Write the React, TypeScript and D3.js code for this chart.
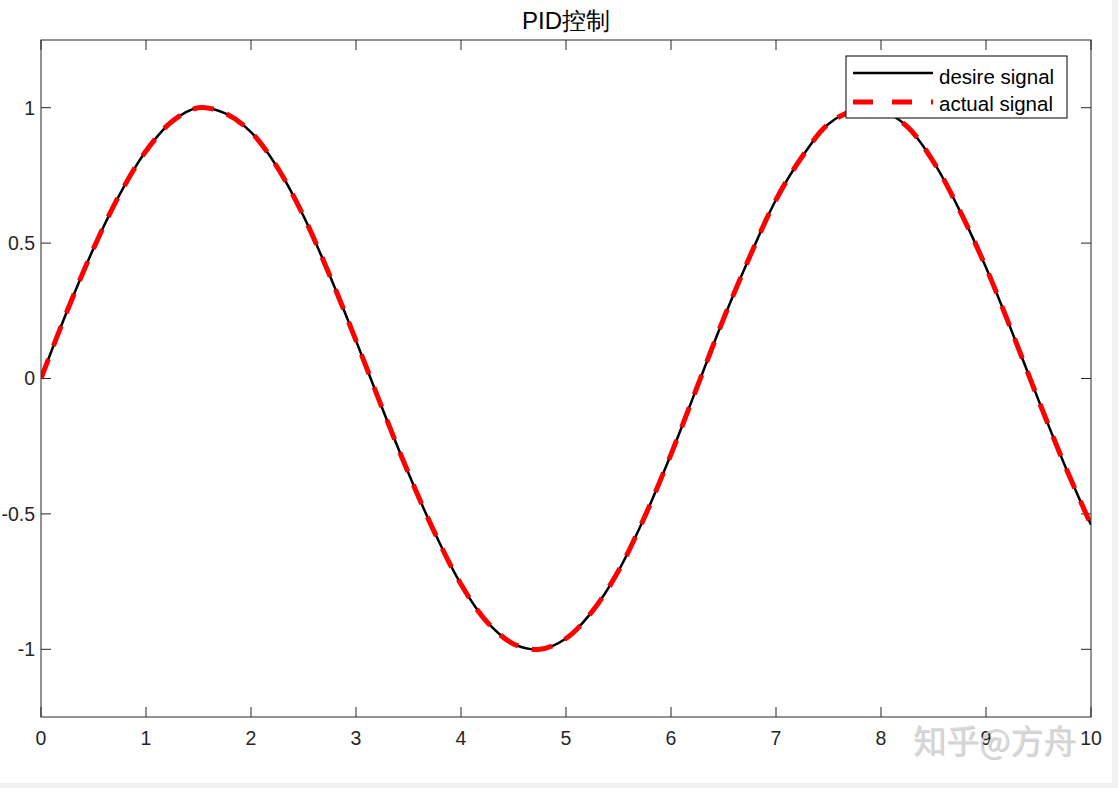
import React from 'react';
import * as d3 from 'd3';

// samples, step 0.25
const tValues = [
  0, 0.25, 0.5, 0.75, 1, 1.25, 1.5, 1.75, 2, 2.25, 2.5, 2.75, 3, 3.25, 3.5, 3.75,
  4, 4.25, 4.5, 4.75, 5, 5.25, 5.5, 5.75, 6, 6.25, 6.5, 6.75, 7, 7.25, 7.5, 7.75,
  8, 8.25, 8.5, 8.75, 9, 9.25, 9.5, 9.75, 10,
];
const desireValues = [
  0, 0.25, 0.48, 0.68, 0.84, 0.95, 1.0, 0.98, 0.91, 0.78, 0.6, 0.38, 0.14, -0.11, -0.35, -0.57,
  -0.76, -0.9, -0.98, -1.0, -0.96, -0.86, -0.71, -0.51, -0.28, -0.03, 0.22, 0.45, 0.66, 0.82, 0.94, 0.99,
  0.99, 0.93, 0.8, 0.62, 0.41, 0.17, -0.08, -0.32, -0.54,
];
const actualValues = [
  0, 0.25, 0.48, 0.68, 0.84, 0.95, 1.0, 0.98, 0.91, 0.78, 0.6, 0.38, 0.14, -0.11, -0.35, -0.57,
  -0.76, -0.9, -0.98, -1.0, -0.96, -0.86, -0.71, -0.51, -0.28, -0.03, 0.22, 0.45, 0.66, 0.82, 0.94, 0.99,
  0.99, 0.93, 0.8, 0.62, 0.41, 0.17, -0.08, -0.32, -0.54,
];
const xTicks = [0, 1, 2, 3, 4, 5, 6, 7, 8, 9, 10];
const yTicks = [-1, -0.5, 0, 0.5, 1];
const legendLabels = ['desire signal', 'actual signal'];

const W = 1118;
const H = 788;
const plot = { left: 41, right: 1091, top: 40, bottom: 717 };
const font = '"Liberation Sans", Arial, Helvetica, sans-serif';
const axisColor = '#262626';

export default function App() {
  const x = d3.scaleLinear().domain([0, 10]).range([plot.left, plot.right]);
  const y = d3.scaleLinear().domain([-1.25, 1.25]).range([plot.bottom, plot.top]);

  const line = d3
    .line<number>()
    .x((_, i) => x(tValues[i]))
    .y((d) => y(d))
    .curve(d3.curveCatmullRom.alpha(0.5));

  const tickLen = 10;

  return (
    <svg
      width={W}
      height={H}
      style={{ position: 'absolute', left: 0, top: 0, fontFamily: font }}
    >
      <rect x={0} y={0} width={W} height={H} fill="#f0f0f0" />
      <rect x={0} y={0} width={1112} height={783} fill="#ffffff" />

      <defs>
        <clipPath id="plot-clip">
          <rect
            x={plot.left}
            y={plot.top}
            width={plot.right - plot.left}
            height={plot.bottom - plot.top}
          />
        </clipPath>
      </defs>

      {/* title */}
      <text x={566} y={29} textAnchor="middle" fontSize={24} fill="#000">
        PID控制
      </text>

      {/* ticks */}
      {xTicks.map((t) => (
        <g key={'x' + t}>
          <line x1={x(t)} x2={x(t)} y1={plot.bottom} y2={plot.bottom - tickLen} stroke={axisColor} />
          <line x1={x(t)} x2={x(t)} y1={plot.top} y2={plot.top + tickLen} stroke={axisColor} />
          <text x={x(t)} y={745} textAnchor="middle" fontSize={19.5} fill={axisColor}>
            {t}
          </text>
        </g>
      ))}
      {yTicks.map((t) => (
        <g key={'y' + t}>
          <line x1={plot.left} x2={plot.left + tickLen} y1={y(t)} y2={y(t)} stroke={axisColor} />
          <line x1={plot.right} x2={plot.right - tickLen} y1={y(t)} y2={y(t)} stroke={axisColor} />
          <text x={35} y={y(t)} dy="0.35em" textAnchor="end" fontSize={19.5} fill={axisColor}>
            {t}
          </text>
        </g>
      ))}

      {/* series */}
      <g clipPath="url(#plot-clip)">
        <path d={line(desireValues) ?? ''} fill="none" stroke="#000" strokeWidth={2.5} />
        <path
          d={line(actualValues) ?? ''}
          fill="none"
          stroke="#ff0000"
          strokeWidth={5}
          strokeDasharray="21,14"
        />
      </g>

      {/* axes box */}
      <rect
        x={plot.left}
        y={plot.top}
        width={plot.right - plot.left}
        height={plot.bottom - plot.top}
        fill="none"
        stroke={axisColor}
        strokeWidth={1}
      />

      {/* legend */}
      <g>
        <rect x={846} y={56} width={221} height={62} fill="#fff" stroke="#000" strokeWidth={1} />
        <line x1={853} x2={933} y1={73} y2={73} stroke="#000" strokeWidth={2.5} />
        <line
          x1={853}
          x2={933}
          y1={102}
          y2={102}
          stroke="#ff0000"
          strokeWidth={5}
          strokeDasharray="20,19"
        />
        {legendLabels.map((l, i) => (
          <text key={l} x={939} y={84 + i * 27} fontSize={20.5} fill="#000">
            {l}
          </text>
        ))}
      </g>

      {/* watermark */}
      <text
        x={913}
        y={753}
        fontSize={33}
        fill="#000"
        opacity={0.18}
        fontFamily='"Noto Sans CJK SC", sans-serif'
        transform="translate(1,1)"
      >
        知乎@方舟
      </text>
      <text
        x={913}
        y={753}
        fontSize={33}
        fill="#d8d8d8"
        opacity={0.85}
        fontFamily='"Noto Sans CJK SC", sans-serif'
      >
        知乎@方舟
      </text>
    </svg>
  );
}
